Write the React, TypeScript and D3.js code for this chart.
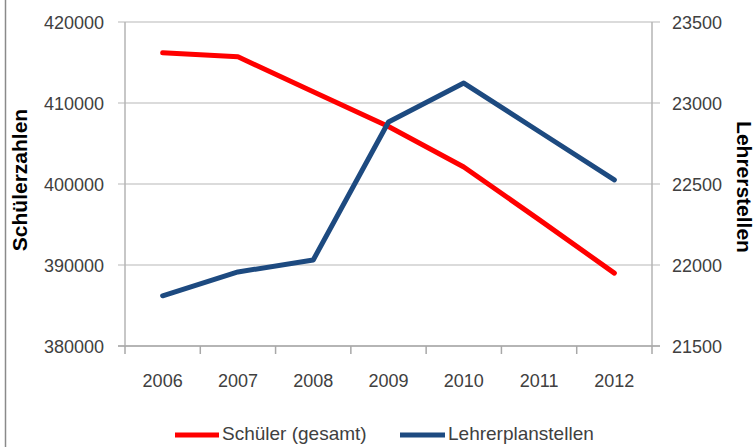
import React from "react";
import * as d3 from "d3";

const years = ["2006", "2007", "2008", "2009", "2010", "2011", "2012"];
const schueler = [416200, 415700, 411400, 407100, 402100, 395600, 389000];
const lehrer = [21810, 21957, 22031, 22883, 23123, 22824, 22525];
const leftTicks = [380000, 390000, 400000, 410000, 420000];
const rightTicks = [21500, 22000, 22500, 23000, 23500];
const seriesNames = ["Schüler (gesamt)", "Lehrerplanstellen"];
const leftTitle = "Schülerzahlen";
const rightTitle = "Lehrerstellen";

const W = 756;
const H = 447;
const L = 125;
const R = 652;
const T = 22;
const B = 346;
const RED = "#ff0000";
const BLUE = "#1d4a80";
const FONT = "'Liberation Sans', Arial, sans-serif";

export default function App() {
  const x = d3.scaleBand<string>().domain(years).range([L, R]);
  const yL = d3.scaleLinear().domain([380000, 420000]).range([B, T]);
  const yR = d3.scaleLinear().domain([21500, 23500]).range([B, T]);
  const cx = (d: string) => (x(d) as number) + x.bandwidth() / 2;

  const lineL = d3
    .line<number>()
    .x((_, i) => cx(years[i]))
    .y((d) => yL(d));
  const lineR = d3
    .line<number>()
    .x((_, i) => cx(years[i]))
    .y((d) => yR(d));

  const edges = years.map((d) => x(d) as number).concat([R]);

  return (
    <svg
      width={W}
      height={H}
      style={{ position: "absolute", left: 0, top: 0, background: "#fff" }}
      fontFamily={FONT}
    >
      <rect x={0} y={0} width={W} height={H} fill="#fff" />
      <line x1={5.5} x2={5.5} y1={0} y2={H} stroke="#8a8a8a" strokeWidth={1.5} />

      {leftTicks.map((t) => (
        <line
          key={"g" + t}
          x1={118}
          x2={660}
          y1={yL(t)}
          y2={yL(t)}
          stroke="#cfcfcf"
          strokeWidth={1.6}
        />
      ))}
      <line x1={L} x2={L} y1={T} y2={B} stroke="#b5b5b5" strokeWidth={1.5} />
      <line x1={R} x2={R} y1={T} y2={B} stroke="#b5b5b5" strokeWidth={1.5} />
      <line x1={118} x2={660} y1={B} y2={B} stroke="#a8a8a8" strokeWidth={1.6} />
      {edges.map((e, i) => (
        <line key={"xt" + i} x1={e} x2={e} y1={B} y2={354} stroke="#a8a8a8" strokeWidth={1.5} />
      ))}

      {leftTicks.map((t) => (
        <text
          key={"lt" + t}
          x={104}
          y={yL(t) + 6.5}
          textAnchor="end"
          fontSize={18}
          fill="#404040"
        >
          {t}
        </text>
      ))}
      {rightTicks.map((t) => (
        <text key={"rt" + t} x={672} y={yR(t) + 6.5} fontSize={18} fill="#404040">
          {t}
        </text>
      ))}
      {years.map((d) => (
        <text key={"x" + d} x={cx(d)} y={387} textAnchor="middle" fontSize={18} fill="#404040">
          {d}
        </text>
      ))}

      <text
        transform={`translate(27,180) rotate(-90)`}
        textAnchor="middle"
        fontSize={21}
        fontWeight="bold"
        fill="#000"
      >
        {leftTitle}
      </text>
      <text
        transform={`translate(737,187) rotate(90)`}
        textAnchor="middle"
        fontSize={21}
        fontWeight="bold"
        fill="#000"
      >
        {rightTitle}
      </text>

      <path
        d={lineL(schueler) || ""}
        fill="none"
        stroke={RED}
        strokeWidth={5}
        strokeLinejoin="round"
        strokeLinecap="round"
      />
      <path
        d={lineR(lehrer) || ""}
        fill="none"
        stroke={BLUE}
        strokeWidth={5}
        strokeLinejoin="round"
        strokeLinecap="round"
      />

      <line x1={175} x2={219} y1={435} y2={435} stroke={RED} strokeWidth={5} />
      <text x={222} y={440} fontSize={19} fill="#404040">
        {seriesNames[0]}
      </text>
      <line x1={400} x2={445} y1={435} y2={435} stroke={BLUE} strokeWidth={5} />
      <text x={448} y={440} fontSize={19} fill="#404040">
        {seriesNames[1]}
      </text>
    </svg>
  );
}
